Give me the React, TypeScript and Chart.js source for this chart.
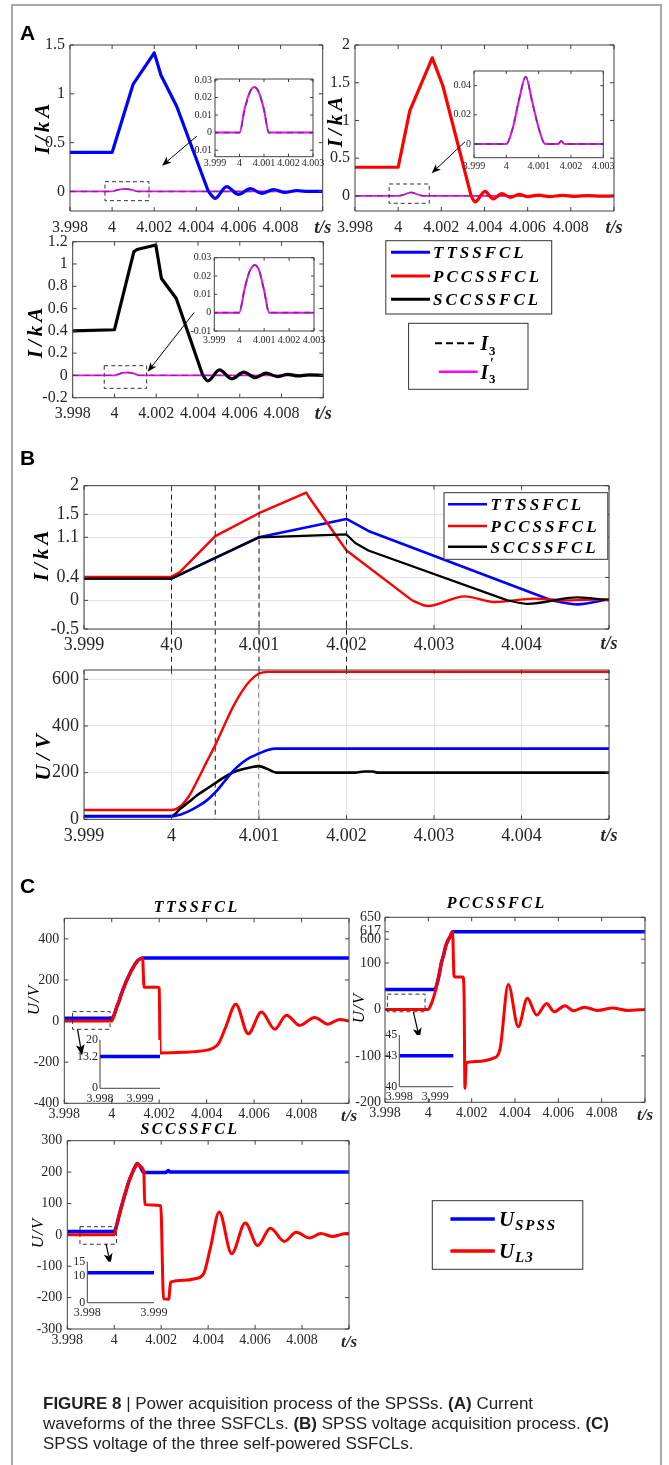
import React, { useEffect, useRef } from "react";
import { Chart, registerables, LinearScale } from "chart.js";

Chart.register(...registerables);

const SERIF = "'Liberation Serif', 'Times New Roman', serif";
const SANS = "'Liberation Sans', Arial, sans-serif";
Chart.defaults.font.family = SERIF;

// ======================= DATA =======================
// ---- Panel A : current waveforms (kA) ----
const T_A1 = [3.998, 4.0, 4.001, 4.002, 4.00232, 4.00307, 4.00457, 4.0049, 4.00543, 4.006, 4.00657, 4.0071, 4.00767, 4.0082, 4.00877, 4.0093, 4.01];
const I_A1_TTSSFCL = [0.4, 0.4, 1.1, 1.42, 1.19, 0.87, 0.0, -0.07, 0.05, -0.03, 0.03, -0.02, 0.02, -0.01, 0.01, 0.0, 0.0];
const A1_RING_START = 6; // index where the damped ringing begins
const T_A1_I3 = [3.998, 4.0, 4.0002, 4.0004, 4.0006, 4.0008, 4.001, 4.0012, 4.01];
const I3_A1 = [0, 0, 0.012, 0.022, 0.026, 0.023, 0.013, 0, 0];
const I3P_A1 = [0, 0, 0.013, 0.0225, 0.026, 0.0225, 0.013, 0, 0];

const T_A2 = [3.998, 4.0, 4.00054, 4.00158, 4.00207, 4.00338, 4.00356, 4.00402, 4.0044, 4.0048, 4.0052, 4.0056, 4.006, 4.0065, 4.007, 4.0076, 4.0082, 4.0088, 4.0094, 4.01];
const I_A2_PCCSSFCL = [0.38, 0.38, 1.13, 1.83, 1.46, 0.0, -0.08, 0.06, -0.04, 0.03, -0.02, 0.02, -0.01, 0.01, -0.01, 0.008, -0.005, 0.005, -0.004, 0.0];
const A2_RING_START = 5;
const T_A2_I3 = [3.998, 4.0, 4.0002, 4.0004, 4.0006, 4.0008, 4.001, 4.0012, 4.0016, 4.0017, 4.0018, 4.01];
const I3_A2 = [0, 0, 0.011, 0.031, 0.046, 0.029, 0.011, 0, 0, 0.002, 0, 0];
const I3P_A2 = [0, 0, 0.011, 0.031, 0.046, 0.029, 0.011, 0, 0, 0.002, 0, 0];

const T_A3 = [3.998, 4.0, 4.00093, 4.00108, 4.00198, 4.00225, 4.00296, 4.00423, 4.00447, 4.00503, 4.00562, 4.00619, 4.00674, 4.00726, 4.0078, 4.0083, 4.0088, 4.0093, 4.01];
const I_A3_SCCSSFCL = [0.4, 0.41, 1.11, 1.13, 1.17, 0.87, 0.69, 0.0, -0.05, 0.05, -0.03, 0.03, -0.02, 0.02, -0.01, 0.01, -0.005, 0.005, 0.0];
const A3_RING_START = 7;
const T_A3_I3 = [3.998, 4.0, 4.0002, 4.0004, 4.00063, 4.0008, 4.001, 4.0012, 4.01];
const I3_A3 = [0, 0, 0.012, 0.022, 0.026, 0.023, 0.012, 0, 0];
const I3P_A3 = [0, 0, 0.012, 0.022, 0.026, 0.023, 0.012, 0, 0];

// ---- Panel B : currents (kA) and SPSS voltages (V) ----
const T_B1_TT = [3.999, 4.0, 4.001, 4.002, 4.00225, 4.00434, 4.00464, 4.005];
const I_B1_TT = [0.38, 0.38, 1.1, 1.42, 1.21, 0.0, -0.07, 0.02];
const B1_TT_RING_START = 5;
const T_B1_PC = [3.999, 4.0, 4.0001, 4.0005, 4.001, 4.00154, 4.00158, 4.002, 4.00275, 4.00293, 4.00335, 4.00369, 4.00414, 4.0045, 4.005];
const I_B1_PC = [0.41, 0.41, 0.5, 1.12, 1.52, 1.88, 1.78, 0.87, 0.0, -0.1, 0.07, -0.03, 0.03, 0.0, 0.02];
const B1_PC_RING_START = 8;
const T_B1_SC = [3.999, 4.0, 4.001, 4.002, 4.0021, 4.00225, 4.00384, 4.00407, 4.00464, 4.005];
const I_B1_SC = [0.38, 0.38, 1.1, 1.15, 1.0, 0.87, 0.0, -0.06, 0.05, 0.0];
const B1_SC_RING_START = 6;

const T_B2_TT = [3.999, 4.0, 4.0001, 4.0002, 4.0003, 4.0004, 4.0005, 4.0006, 4.0007, 4.0008, 4.0009, 4.001, 4.0011, 4.0012, 4.005];
const U_B2_TT = [12, 12, 20, 35, 55, 80, 115, 160, 205, 240, 265, 282, 297, 303, 303];
const T_B2_PC = [3.999, 4.0, 4.0001, 4.0002, 4.0003, 4.0004, 4.0005, 4.0006, 4.0007, 4.0008, 4.0009, 4.001, 4.0011, 4.005];
const U_B2_PC = [40, 40, 55, 100, 170, 245, 318, 400, 480, 545, 595, 625, 632, 632];
const T_B2_SC = [3.999, 4.0, 4.0001, 4.0002, 4.0003, 4.0004, 4.0005, 4.0006, 4.0007, 4.0008, 4.0009, 4.001, 4.0011, 4.0012, 4.0021, 4.0022, 4.0023, 4.00235, 4.005];
const U_B2_SC = [14, 14, 45, 75, 105, 130, 155, 180, 200, 213, 222, 228, 215, 200, 200, 205, 205, 200, 200];
const B_MARK_TIMES = [4.0, 4.0005, 4.001, 4.002];

// ---- Panel C : SPSS voltage and L3 voltage (V) ----
const T_C1_SPSS = [3.998, 4.0, 4.0001, 4.0002, 4.0003, 4.0004, 4.0005, 4.0006, 4.0007, 4.0008, 4.0009, 4.001, 4.0011, 4.0012, 4.00133, 4.01];
const U_C1_SPSS = [13.2, 13.2, 30, 65, 95, 130, 160, 190, 215, 240, 260, 280, 295, 303, 307, 307];
const T_C1_L3 = [3.998, 4.0, 4.0001, 4.0002, 4.0003, 4.0004, 4.0005, 4.0006, 4.0007, 4.0008, 4.0009, 4.001, 4.0011, 4.0012, 4.0013, 4.00136, 4.00195, 4.002, 4.00204, 4.003, 4.0038, 4.0042, 4.0045, 4.0048, 4.00523, 4.00575, 4.00631, 4.00687, 4.00736, 4.00792, 4.00855, 4.00911, 4.0096, 4.01];
const U_C1_L3 = [0, 0, 30, 65, 95, 130, 160, 190, 215, 240, 260, 280, 295, 303, 307, 165, 165, 160, -155, -152, -145, -135, -110, -30, 82, -62, 44, -40, 28, -21, 18, -15, 8, 0];

const T_C2_SPSS = [3.998, 4.0003, 4.0004, 4.0005, 4.0006, 4.0007, 4.0008, 4.0009, 4.001, 4.00112, 4.01];
const U_C2_SPSS = [43, 43, 55, 75, 100, 260, 450, 570, 605, 617, 617];
const T_C2_L3 = [3.998, 4.0, 4.0001, 4.0002, 4.0003, 4.0004, 4.0005, 4.0006, 4.0007, 4.0008, 4.0009, 4.001, 4.00112, 4.00118, 4.00123, 4.0016, 4.00165, 4.00169, 4.00175, 4.0022, 4.003, 4.0033, 4.00369, 4.00415, 4.00457, 4.005, 4.00546, 4.0058, 4.00631, 4.0067, 4.0072, 4.0078, 4.0085, 4.0092, 4.01];
const U_C2_L3 = [0, 0, 8, 20, 35, 55, 75, 100, 260, 450, 570, 605, 617, 75, 70, 70, 30, -170, -115, -112, -105, -87, 54, -37, 24, -12, 13, -5, 8, -3, 5, -2, 3, -2, 0];

const T_C3_SPSS = [3.998, 4.0, 4.0001, 4.0002, 4.0003, 4.0004, 4.0005, 4.0006, 4.0007, 4.0008, 4.0009, 4.00097, 4.0011, 4.00126, 4.0022, 4.0023, 4.00238, 4.01];
const U_C3_SPSS = [11, 11, 30, 60, 88, 115, 140, 165, 185, 203, 218, 227, 218, 199, 199, 205, 200, 200];
const T_C3_L3 = [3.998, 4.0, 4.0001, 4.0002, 4.0003, 4.0004, 4.0005, 4.0006, 4.0007, 4.0008, 4.0009, 4.00097, 4.0011, 4.00126, 4.0013, 4.0016, 4.00198, 4.0021, 4.00232, 4.0024, 4.003, 4.00343, 4.0038, 4.0041, 4.00447, 4.005, 4.00558, 4.00611, 4.00665, 4.00725, 4.00775, 4.00833, 4.0088, 4.0093, 4.0097, 4.01];
const U_C3_L3 = [0, 0, 30, 60, 88, 115, 140, 165, 185, 203, 218, 227, 218, 200, 97, 95, 93, -204, -205, -151, -145, -140, -125, -40, 73, -60, 38, -34, 21, -21, 8, -10, 4, -5, 2, 5];

// ---- ticks ----
const X_TICKS_A = [3.998, 4.0, 4.002, 4.004, 4.006, 4.008, 4.01];
const X_LABELS_A = ["3.998", "4", "4.002", "4.004", "4.006", "4.008", "t/s"];
const X_TICKS_AI = [3.999, 4.0, 4.001, 4.002, 4.003];
const X_LABELS_AI = ["3.999", "4", "4.001", "4.002", "4.003"];
const Y_TICKS_A1 = [0, 0.5, 1, 1.5];
const Y_LABELS_A1 = ["0", "0.5", "1", "1.5"];
const Y_TICKS_A2 = [0, 0.5, 1, 1.5, 2];
const Y_LABELS_A2 = ["0", "0.5", "1", "1.5", "2"];
const Y_TICKS_A3 = [-0.2, 0, 0.2, 0.4, 0.6, 0.8, 1, 1.2];
const Y_LABELS_A3 = ["-0.2", "0", "0.2", "0.4", "0.6", "0.8", "1", "1.2"];
const Y_TICKS_AI13 = [-0.01, 0, 0.01, 0.02, 0.03];
const Y_LABELS_AI13 = ["-0.01", "0", "0.01", "0.02", "0.03"];
const Y_TICKS_AI2 = [0, 0.02, 0.04];
const Y_LABELS_AI2 = ["0", "0.02", "0.04"];

const X_TICKS_B = [3.999, 4.0, 4.001, 4.002, 4.003, 4.004, 4.005];
const X_LABELS_B1 = ["3.999", "4.0", "4.001", "4.002", "4.003", "4.004", "t/s"];
const X_LABELS_B2 = ["3.999", "4", "4.001", "4.002", "4.003", "4.004", "t/s"];
const Y_TICKS_B1 = [-0.5, 0, 0.4, 1.1, 1.5, 2];
const Y_LABELS_B1 = ["-0.5", "0", "0.4", "1.1", "1.5", "2"];
const Y_TICKS_B2 = [0, 200, 400, 600];
const Y_LABELS_B2 = ["0", "200", "400", "600"];

const Y_TICKS_C1 = [-400, -200, 0, 200, 400];
const Y_LABELS_C1 = ["-400", "-200", "0", "200", "400"];
const Y_TICKS_C2 = [-200, -100, 0, 100, 600, 617, 650];
const Y_LABELS_C2 = ["-200", "-100", "0", "100", "600", "617", "650"];
const Y_TICKS_C3 = [-300, -200, -100, 0, 100, 200, 300];
const Y_LABELS_C3 = ["-300", "-200", "-100", "0", "100", "200", "300"];
const X_TICKS_CI = [3.998, 3.999];
const X_LABELS_CI = ["3.998", "3.999"];
const X_LABELS_CI2 = ["3.998", "3,999"];
const Y_TICKS_CI1 = [0, 13.2, 20];
const Y_LABELS_CI1 = ["0", "13.2", "20"];
const Y_TICKS_CI2 = [40, 43, 45];
const Y_LABELS_CI2 = ["40", "43", "45"];
const Y_TICKS_CI3 = [0, 10, 15];
const Y_LABELS_CI3 = ["0", "10", "15"];

// ---- zoom boxes and arrows (data coordinates: x0, x1, y0, y1 / x1, y1, x2, y2) ----
const A1_ZOOM_BOX = [3.99966, 4.00175, -0.094, 0.1];
const A1_ZOOM_ARROW = [4.00403, 0.568, 4.00237, 0.264];
const A2_ZOOM_BOX = [3.99958, 4.00144, -0.098, 0.158];
const A2_ZOOM_ARROW = [4.0031, 0.718, 4.00155, 0.3];
const A3_ZOOM_BOX = [3.99951, 4.00154, -0.116, 0.087];
const A3_ZOOM_ARROW = [4.00382, 0.566, 4.00159, 0.033];
const C1_ZOOM_BOX = [3.99835, 3.99993, -40, 46];
const C1_ZOOM_ARROW = [3.99856, -40, 3.99875, -168];
const C2_ZOOM_BOX = [3.99811, 3.99985, -5, 33];
const C2_ZOOM_ARROW = [3.99931, -5, 3.9996, -64];
const C3_ZOOM_BOX = [3.99854, 4.0001, -30, 26];
const C3_ZOOM_ARROW = [3.99965, -29, 3.99984, -95];

// ---- broken axis of the PCCSSFCL voltage plot ----
const C2_BREAK_LO = 100;
const C2_BREAK_HI = 600;
const C2_MID_SCALE = 0.1028;
const C2_TOP_SCALE = 0.943;
function brk(v: number) {
  if (v <= C2_BREAK_LO) return v;
  if (v <= C2_BREAK_HI) return C2_BREAK_LO + (v - C2_BREAK_LO) * C2_MID_SCALE;
  return C2_BREAK_LO + (C2_BREAK_HI - C2_BREAK_LO) * C2_MID_SCALE + (v - C2_BREAK_HI) * C2_TOP_SCALE;
}
class BrokenLinearScale extends LinearScale {
  static id = "brokenLinear";
  static defaults = {};
  getPixelForValue(value: any) {
    return super.getPixelForValue(brk(value));
  }
}
Chart.register(BrokenLinearScale as any);

// ======================= STYLE =======================
const BLUE = "#0000ff";
const RED = "#ff0000";
const BLACK = "#000000";
const MAGENTA = "#ff00ff";
const DASHC = "rgba(70,70,110,0.8)";

const F_A = { family: SERIF, size: 16 };
const F_AI = { family: SERIF, size: 10 };
const F_B = { family: SERIF, size: 18 };
const F_C = { family: SERIF, size: 14 };
const F_CI = { family: SERIF, size: 12 };
const F_TS = { family: SERIF, size: 18, style: "italic", weight: "bold" };
const F_TS_C = { family: SERIF, size: 17, style: "italic", weight: "bold" };

function series(xs: number[], ys: number[], color: string, width: number, extra: any = {}) {
  return {
    data: xs.map((x, i) => ({ x, y: ys[i] })),
    borderColor: color,
    backgroundColor: color,
    borderWidth: width,
    pointRadius: 0,
    pointHoverRadius: 0,
    fill: false,
    cubicInterpolationMode: "monotone",
    ...extra,
  };
}
// piecewise-linear part up to index k, smooth ringing afterwards
function splitSeries(xs: number[], ys: number[], k: number, color: string, width: number) {
  return [
    series(xs.slice(0, k + 1), ys.slice(0, k + 1), color, width, { cubicInterpolationMode: "default", tension: 0, borderJoinStyle: "round" }),
    series(xs.slice(k), ys.slice(k), color, width),
  ];
}
const dashed = { borderDash: [6, 5] };

// ======================= PLOT SPECS =======================
const SPECS: any[] = [
  {
    canvas: [14, 30, 332, 210], plot: [70, 45, 322.7, 211],
    x: { min: 3.998, max: 4.01, ticks: X_TICKS_A, labels: X_LABELS_A, font: F_A, pad: 7 },
    y: { min: -0.2, max: 1.5, ticks: Y_TICKS_A1, labels: Y_LABELS_A1, font: F_A, pad: 5 },
    datasets: [...splitSeries(T_A1, I_A1_TTSSFCL, A1_RING_START, BLUE, 3.2), series(T_A1_I3, I3_A1, DASHC, 1.4, dashed), series(T_A1_I3, I3P_A1, MAGENTA, 1.8)],
    tickLen: 4, rects: [A1_ZOOM_BOX], arrows: [{ c: A1_ZOOM_ARROW, head: 10, width: 1 }],
  },
  {
    canvas: [300, 30, 369, 210], plot: [355, 45, 614, 211],
    x: { min: 3.998, max: 4.01, ticks: X_TICKS_A, labels: X_LABELS_A, font: F_A, pad: 7 },
    y: { min: -0.2, max: 2, ticks: Y_TICKS_A2, labels: Y_LABELS_A2, font: F_A, pad: 5 },
    datasets: [...splitSeries(T_A2, I_A2_PCCSSFCL, A2_RING_START, RED, 3.2), series(T_A2_I3, I3_A2, DASHC, 1.4, dashed), series(T_A2_I3, I3P_A2, MAGENTA, 1.8)],
    tickLen: 4, rects: [A2_ZOOM_BOX], arrows: [{ c: A2_ZOOM_ARROW, head: 10, width: 1 }],
  },
  {
    canvas: [14, 226, 332, 208], plot: [72.7, 241.7, 323.3, 397.7],
    x: { min: 3.998, max: 4.01, ticks: X_TICKS_A, labels: X_LABELS_A, font: F_A, pad: 6 },
    y: { min: -0.2, max: 1.2, ticks: Y_TICKS_A3, labels: Y_LABELS_A3, font: F_A, pad: 5 },
    datasets: [...splitSeries(T_A3, I_A3_SCCSSFCL, A3_RING_START, BLACK, 3.2), series(T_A3_I3, I3_A3, DASHC, 1.4, dashed), series(T_A3_I3, I3P_A3, MAGENTA, 1.8)],
    tickLen: 4, rects: [A3_ZOOM_BOX], arrows: [{ c: A3_ZOOM_ARROW, head: 10, width: 1 }],
  },
  {
    canvas: [170, 72, 170, 100], plot: [215, 79, 313, 156.7], white: true,
    x: { min: 3.999, max: 4.003, ticks: X_TICKS_AI, labels: X_LABELS_AI, font: F_AI, pad: 1 },
    y: { min: -0.0137, max: 0.0305, ticks: Y_TICKS_AI13, labels: Y_LABELS_AI13, font: F_AI, pad: 3 },
    datasets: [series(T_A1_I3, I3_A1, DASHC, 1.8, dashed), series(T_A1_I3, I3P_A1, MAGENTA, 2)],
    tickLen: 3,
  },
  {
    canvas: [430, 64, 200, 114], plot: [474, 71, 603.3, 157.7], white: true,
    x: { min: 3.999, max: 4.003, ticks: X_TICKS_AI, labels: X_LABELS_AI, font: F_AI, pad: 3 },
    y: { min: -0.0094, max: 0.05, ticks: Y_TICKS_AI2, labels: Y_LABELS_AI2, font: F_AI, pad: 3 },
    datasets: [series(T_A2_I3, I3_A2, DASHC, 1.8, dashed), series(T_A2_I3, I3P_A2, MAGENTA, 2)],
    tickLen: 3,
  },
  {
    canvas: [170, 250, 170, 99], plot: [214.3, 257.7, 314, 331], white: true,
    x: { min: 3.999, max: 4.003, ticks: X_TICKS_AI, labels: X_LABELS_AI, font: F_AI, pad: 3 },
    y: { min: -0.01, max: 0.03, ticks: Y_TICKS_AI13, labels: Y_LABELS_AI13, font: F_AI, pad: 3 },
    datasets: [series(T_A3_I3, I3_A3, DASHC, 1.8, dashed), series(T_A3_I3, I3P_A3, MAGENTA, 2)],
    tickLen: 3,
  },
  {
    canvas: [14, 470, 650, 360], plot: [84, 485.7, 609, 629], grid: true,
    x: { min: 3.999, max: 4.005, ticks: X_TICKS_B, labels: X_LABELS_B1, font: F_B, pad: 5 },
    y: { min: -0.5, max: 2, ticks: Y_TICKS_B1, labels: Y_LABELS_B1, font: F_B, pad: 5 },
    datasets: [
      ...splitSeries(T_B1_SC, I_B1_SC, B1_SC_RING_START, BLACK, 2.2),
      ...splitSeries(T_B1_PC, I_B1_PC, B1_PC_RING_START, RED, 2.4),
      ...splitSeries(T_B1_TT, I_B1_TT, B1_TT_RING_START, BLUE, 2.6),
    ],
    tickLen: 4, vlines: { xs: B_MARK_TIMES, bottom: 819.3 },
  },
  {
    canvas: [14, 662, 650, 190], plot: [84, 670, 609, 819.3], grid: true,
    x: { min: 3.999, max: 4.005, ticks: X_TICKS_B, labels: X_LABELS_B2, font: F_B, pad: 6 },
    y: { min: 0, max: 640, ticks: Y_TICKS_B2, labels: Y_LABELS_B2, font: F_B, pad: 5 },
    datasets: [series(T_B2_TT, U_B2_TT, BLUE, 2.6), series(T_B2_SC, U_B2_SC, BLACK, 2.6), series(T_B2_PC, U_B2_PC, RED, 2.4)],
    tickLen: 4,
  },
  {
    canvas: [14, 905, 352, 220], plot: [64.3, 918.3, 349, 1103.3],
    x: { min: 3.998, max: 4.01, ticks: X_TICKS_A, labels: X_LABELS_A, font: F_C, pad: 3, tsFont: F_TS_C },
    y: { min: -400, max: 500, ticks: Y_TICKS_C1, labels: Y_LABELS_C1, font: F_C, pad: 5 },
    datasets: [series(T_C1_L3, U_C1_L3, RED, 3), series(T_C1_SPSS, U_C1_SPSS, BLUE, 3.5)],
    tickLen: 4, rects: [C1_ZOOM_BOX], arrows: [{ c: C1_ZOOM_ARROW, head: 12, width: 1.2 }],
  },
  {
    canvas: [340, 905, 329, 220], plot: [385, 917.3, 645, 1102.3],
    x: { min: 3.998, max: 4.01, ticks: X_TICKS_A, labels: X_LABELS_A, font: F_C, pad: 3, tsFont: F_TS_C },
    y: { type: "brokenLinear", min: brk(-200), max: brk(650), ticks: Y_TICKS_C2, labels: Y_LABELS_C2, font: F_C, pad: 4 },
    datasets: [series(T_C2_L3, U_C2_L3, RED, 3), series(T_C2_SPSS, U_C2_SPSS, BLUE, 3.5)],
    tickLen: 4, rects: [C2_ZOOM_BOX], arrows: [{ c: C2_ZOOM_ARROW, head: 12, width: 1.2 }],
  },
  {
    canvas: [14, 1130, 352, 229], plot: [67.3, 1140.7, 349, 1329],
    x: { min: 3.998, max: 4.01, ticks: X_TICKS_A, labels: X_LABELS_A, font: F_C, pad: 3, tsFont: F_TS_C },
    y: { min: -300, max: 300, ticks: Y_TICKS_C3, labels: Y_LABELS_C3, font: F_C, pad: 5 },
    datasets: [series(T_C3_L3, U_C3_L3, RED, 3), series(T_C3_SPSS, U_C3_SPSS, BLUE, 3.5)],
    tickLen: 4, rects: [C3_ZOOM_BOX], arrows: [{ c: C3_ZOOM_ARROW, head: 12, width: 1.2 }],
  },
  {
    canvas: [55, 1030, 120, 84], plot: [100, 1040, 160, 1088.3], white: true, box: "lb",
    x: { min: 3.998, max: 3.9995, ticks: X_TICKS_CI, labels: X_LABELS_CI, font: F_CI, pad: 3 },
    y: { min: 0, max: 20, ticks: Y_TICKS_CI1, labels: Y_LABELS_CI1, font: F_CI, pad: 2 },
    datasets: [series(T_C1_SPSS, U_C1_SPSS, BLUE, 3.5)],
    tickLen: 0,
  },
  {
    canvas: [355, 1025, 110, 88], plot: [399.3, 1035, 453.3, 1086.7], white: true, box: "lb",
    x: { min: 3.998, max: 3.9995, ticks: X_TICKS_CI, labels: X_LABELS_CI2, font: F_CI, pad: 3 },
    y: { min: 40, max: 45, ticks: Y_TICKS_CI2, labels: Y_LABELS_CI2, font: F_CI, pad: 2 },
    datasets: [series(T_C2_SPSS, U_C2_SPSS, BLUE, 3.5)],
    tickLen: 0,
  },
  {
    canvas: [45, 1252, 130, 78], plot: [87.3, 1261.7, 154, 1302.7], white: true, box: "lb",
    x: { min: 3.998, max: 3.999, ticks: X_TICKS_CI, labels: X_LABELS_CI, font: F_CI, pad: 3 },
    y: { min: 0, max: 15, ticks: Y_TICKS_CI3, labels: Y_LABELS_CI3, font: F_CI, pad: 2 },
    datasets: [series(T_C3_SPSS, U_C3_SPSS, BLUE, 3.5)],
    tickLen: 0,
  },
];

// ======================= CHART BUILDING =======================
function axisOptions(ax: any, isX: boolean, size: number, grid: boolean) {
  return {
    type: ax.type || "linear",
    min: ax.min,
    max: ax.max,
    bounds: "data",
    grid: { display: !!grid, color: "#e3e3e3", lineWidth: 1, drawTicks: false },
    border: { display: false },
    afterBuildTicks: (s: any) => {
      s.ticks = ax.ticks.map((v: number) => ({ value: v }));
    },
    afterFit: (s: any) => {
      if (isX) s.height = size;
      else s.width = size;
      s.paddingLeft = 0;
      s.paddingRight = 0;
      s.paddingTop = 0;
      s.paddingBottom = 0;
    },
    ticks: {
      autoSkip: false,
      maxRotation: 0,
      minRotation: 0,
      padding: ax.pad,
      color: "#262626",
      font: (c: any) => (c && ax.labels[c.index] === "t/s" ? ax.tsFont || F_TS : ax.font),
      callback: (_v: any, i: number) => ax.labels[i],
    },
  };
}

function decorPlugin(spec: any) {
  return {
    id: "decor",
    beforeDraw(chart: any) {
      if (!spec.white) return;
      const { ctx, chartArea: a } = chart;
      ctx.save();
      ctx.fillStyle = "#ffffff";
      ctx.fillRect(a.left, a.top, a.right - a.left, a.bottom - a.top);
      ctx.restore();
    },
    afterDatasetsDraw(chart: any) {
      const { ctx, chartArea: a } = chart;
      const xs = chart.scales.x;
      const ys = chart.scales.y;
      ctx.save();
      if (spec.vlines) {
        ctx.strokeStyle = "#1a1a1a";
        ctx.lineWidth = 1;
        ctx.setLineDash([5, 4]);
        const yb = spec.vlines.bottom - spec.canvas[1];
        for (const v of spec.vlines.xs) {
          const px = xs.getPixelForValue(v);
          ctx.beginPath();
          ctx.moveTo(px, a.top);
          ctx.lineTo(px, yb);
          ctx.stroke();
        }
        ctx.setLineDash([]);
      }
      if (spec.rects) {
        ctx.strokeStyle = "#333333";
        ctx.lineWidth = 1;
        ctx.setLineDash([4, 3]);
        for (const r of spec.rects) {
          const px0 = xs.getPixelForValue(r[0]);
          const px1 = xs.getPixelForValue(r[1]);
          const py0 = ys.getPixelForValue(r[2]);
          const py1 = ys.getPixelForValue(r[3]);
          ctx.strokeRect(px0, py1, px1 - px0, py0 - py1);
        }
        ctx.setLineDash([]);
      }
      if (spec.arrows) {
        for (const ar of spec.arrows) {
          const x1 = xs.getPixelForValue(ar.c[0]);
          const y1 = ys.getPixelForValue(ar.c[1]);
          const x2 = xs.getPixelForValue(ar.c[2]);
          const y2 = ys.getPixelForValue(ar.c[3]);
          const ang = Math.atan2(y2 - y1, x2 - x1);
          const h = ar.head;
          const bx = x2 - h * 0.7 * Math.cos(ang);
          const by = y2 - h * 0.7 * Math.sin(ang);
          ctx.strokeStyle = "#000";
          ctx.fillStyle = "#000";
          ctx.lineWidth = ar.width;
          ctx.beginPath();
          ctx.moveTo(x1, y1);
          ctx.lineTo(bx, by);
          ctx.stroke();
          ctx.beginPath();
          ctx.moveTo(x2, y2);
          ctx.lineTo(x2 - h * Math.cos(ang - 0.38), y2 - h * Math.sin(ang - 0.38));
          ctx.lineTo(bx, by);
          ctx.lineTo(x2 - h * Math.cos(ang + 0.38), y2 - h * Math.sin(ang + 0.38));
          ctx.closePath();
          ctx.fill();
        }
      }
      ctx.strokeStyle = "#404040";
      ctx.lineWidth = 1;
      ctx.beginPath();
      if (spec.box === "lb") {
        ctx.moveTo(a.left, a.top);
        ctx.lineTo(a.left, a.bottom);
        ctx.lineTo(a.right, a.bottom);
      } else {
        ctx.rect(a.left, a.top, a.right - a.left, a.bottom - a.top);
      }
      ctx.stroke();
      const L = spec.tickLen || 0;
      if (L > 0) {
        ctx.beginPath();
        for (const t of xs.ticks) {
          const px = xs.getPixelForValue(t.value);
          ctx.moveTo(px, a.bottom);
          ctx.lineTo(px, a.bottom - L);
          ctx.moveTo(px, a.top);
          ctx.lineTo(px, a.top + L);
        }
        for (const t of ys.ticks) {
          const py = ys.getPixelForValue(t.value);
          ctx.moveTo(a.left, py);
          ctx.lineTo(a.left + L, py);
          ctx.moveTo(a.right, py);
          ctx.lineTo(a.right - L, py);
        }
        ctx.stroke();
      }
      ctx.restore();
    },
  };
}

function PlotCanvas({ spec }: { spec: any }) {
  const ref = useRef<HTMLCanvasElement | null>(null);
  const [cx, cy, cw, ch] = spec.canvas;
  useEffect(() => {
    const [l, t, r, b] = spec.plot;
    const ML = l - cx;
    const MT = t - cy;
    const MR = cx + cw - r;
    const MB = cy + ch - b;
    const chart = new Chart(ref.current as HTMLCanvasElement, {
      type: "line",
      data: { datasets: spec.datasets },
      options: {
        animation: false,
        responsive: false,
        maintainAspectRatio: false,
        devicePixelRatio: 1,
        events: [],
        layout: { padding: { top: MT, right: MR, left: 0, bottom: 0 } },
        plugins: { legend: { display: false }, tooltip: { enabled: false }, title: { display: false } },
        scales: {
          x: axisOptions(spec.x, true, MB, spec.grid),
          y: axisOptions(spec.y, false, ML, spec.grid),
        },
      } as any,
      plugins: [decorPlugin(spec)],
    });
    return () => chart.destroy();
  }, [spec]);
  return (
    <canvas
      ref={ref}
      width={cw}
      height={ch}
      style={{ position: "absolute", left: cx, top: cy, width: cw, height: ch }}
    />
  );
}

// ======================= TEXT HELPERS =======================
function Txt({ x, y, anchor = "left", rot = false, style = {}, children }: any) {
  const tx = anchor === "center" ? "-50%" : anchor === "right" ? "-100%" : "0";
  return (
    <div
      style={{
        position: "absolute",
        left: x,
        top: y,
        transform: rot ? "translate(-50%,-50%) rotate(-90deg)" : `translate(${tx},-50%)`,
        whiteSpace: "nowrap",
        lineHeight: 1,
        color: "#000",
        ...style,
      }}
    >
      {children}
    </div>
  );
}
const mathF = (size: number, weight: any = "bold", ls = 0) => ({
  fontFamily: SERIF,
  fontStyle: "italic",
  fontWeight: weight,
  fontSize: size,
  letterSpacing: ls,
});
const panelF = { fontFamily: SANS, fontWeight: "bold", fontSize: 21 };
const capF = { fontFamily: SANS, fontSize: 17, color: "#231f20" };

export default function App() {
  return (
    <div
      style={{
        position: "absolute",
        left: 0,
        top: 0,
        width: 669,
        height: 1465,
        background: "#ffffff",
        overflow: "hidden",
      }}
    >
      <div
        style={{
          position: "absolute",
          left: 11,
          top: 4,
          width: 651,
          height: 1480,
          border: "2px solid #a8a8a8",
          boxSizing: "border-box",
        }}
      />
      {SPECS.map((s, i) => (
        <PlotCanvas key={i} spec={s} />
      ))}
      <svg width={669} height={1465} style={{ position: "absolute", left: 0, top: 0 }}>
        {/* Panel A legends */}
        <rect x={385.8} y={240.7} width={165.9} height={73.3} fill="#fff" stroke="#333" strokeWidth={1} />
        <line x1={391} y1={252.3} x2={430} y2={252.3} stroke={BLUE} strokeWidth={3} />
        <line x1={391} y1={276} x2={430} y2={276} stroke={RED} strokeWidth={3} />
        <line x1={391} y1={299.3} x2={430} y2={299.3} stroke={BLACK} strokeWidth={3} />
        <rect x={408.6} y={323.3} width={119.4} height={66} fill="#fff" stroke="#333" strokeWidth={1} />
        <line x1={435} y1={343.3} x2={474} y2={343.3} stroke={BLACK} strokeWidth={2} strokeDasharray="7 4" />
        <line x1={438.8} y1={371.7} x2={477.6} y2={371.7} stroke={MAGENTA} strokeWidth={2.5} />
        {/* Panel B legend */}
        <rect x={444} y={492.7} width={163.8} height={66.6} fill="#fff" stroke="#333" strokeWidth={1} />
        <line x1={448} y1={504.3} x2={487} y2={504.3} stroke={BLUE} strokeWidth={2.6} />
        <line x1={448} y1={526} x2={487} y2={526} stroke={RED} strokeWidth={2.6} />
        <line x1={448} y1={546.7} x2={487} y2={546.7} stroke={BLACK} strokeWidth={2.6} />
        {/* Panel C legend */}
        <rect x={432.3} y={1200.7} width={150.5} height={68.6} fill="#fff" stroke="#333" strokeWidth={1} />
        <line x1={450.4} y1={1219} x2={494.8} y2={1219} stroke={BLUE} strokeWidth={3.5} />
        <line x1={450.4} y1={1251} x2={494.8} y2={1251} stroke={RED} strokeWidth={3.5} />
      </svg>

      {/* panel letters */}
      <Txt x={20} y={32} style={panelF}>A</Txt>
      <Txt x={20} y={457} style={panelF}>B</Txt>
      <Txt x={20} y={885} style={panelF}>C</Txt>

      {/* axis titles */}
      <Txt x={42} y={127} rot style={mathF(21, "bold", 4)}>I/kA</Txt>
      <Txt x={335} y={120} rot style={mathF(21, "bold", 4)}>I/kA</Txt>
      <Txt x={35} y={331} rot style={mathF(21, "bold", 4)}>I/kA</Txt>
      <Txt x={41} y={554} rot style={mathF(21, "bold", 4)}>I/kA</Txt>
      <Txt x={42.5} y={755} rot style={mathF(22, "bold", 5)}>U/V</Txt>
      <Txt x={33} y={1000} rot style={mathF(17, "normal", 1)}>U/V</Txt>
      <Txt x={358} y={1008} rot style={mathF(17, "normal", 1)}>U/V</Txt>
      <Txt x={36.7} y={1233} rot style={mathF(17, "normal", 1)}>U/V</Txt>

      {/* C titles */}
      <Txt x={196.7} y={906.7} anchor="center" style={mathF(16, "bold", 2.5)}>TTSSFCL</Txt>
      <Txt x={496.7} y={903.3} anchor="center" style={mathF(16, "bold", 2.5)}>PCCSSFCL</Txt>
      <Txt x={190} y={1129} anchor="center" style={mathF(16, "bold", 2.5)}>SCCSSFCL</Txt>

      {/* A legend texts */}
      <Txt x={433} y={252.3} style={mathF(17, "bold", 3)}>TTSSFCL</Txt>
      <Txt x={433} y={276} style={mathF(17, "bold", 3)}>PCCSSFCL</Txt>
      <Txt x={433} y={299.3} style={mathF(17, "bold", 3)}>SCCSSFCL</Txt>
      <Txt x={480.6} y={343.3} style={mathF(20, "bold")}>I</Txt>
      <Txt x={489} y={349.5} style={{ fontFamily: SERIF, fontWeight: "bold", fontSize: 13 }}>3</Txt>
      <Txt x={480.6} y={371.7} style={mathF(20, "bold")}>I</Txt>
      <Txt x={490} y={364} style={{ fontFamily: SERIF, fontWeight: "bold", fontSize: 14 }}>′</Txt>
      <Txt x={489} y={378} style={{ fontFamily: SERIF, fontWeight: "bold", fontSize: 13 }}>3</Txt>

      {/* B legend texts */}
      <Txt x={490.5} y={504.3} style={mathF(17, "bold", 3)}>TTSSFCL</Txt>
      <Txt x={490.5} y={526} style={mathF(17, "bold", 3)}>PCCSSFCL</Txt>
      <Txt x={490.5} y={546.7} style={mathF(17, "bold", 3)}>SCCSSFCL</Txt>

      {/* C legend texts */}
      <Txt x={499} y={1219} style={mathF(21, "bold")}>U</Txt>
      <Txt x={515} y={1225} style={mathF(15, "bold", 2)}>SPSS</Txt>
      <Txt x={499} y={1251} style={mathF(21, "bold")}>U</Txt>
      <Txt x={515} y={1257} style={mathF(15, "bold", 1)}>L3</Txt>

      {/* caption */}
      <Txt x={43} y={1402.7} style={capF}>
        <b>FIGURE 8</b> | Power acquisition process of the SPSSs. <b>(A)</b> Current
      </Txt>
      <Txt x={43} y={1422.7} style={capF}>
        waveforms of the three SSFCLs. <b>(B)</b> SPSS voltage acquisition process. <b>(C)</b>
      </Txt>
      <Txt x={43} y={1443.3} style={capF}>
        SPSS voltage of the three self-powered SSFCLs.
      </Txt>
    </div>
  );
}
